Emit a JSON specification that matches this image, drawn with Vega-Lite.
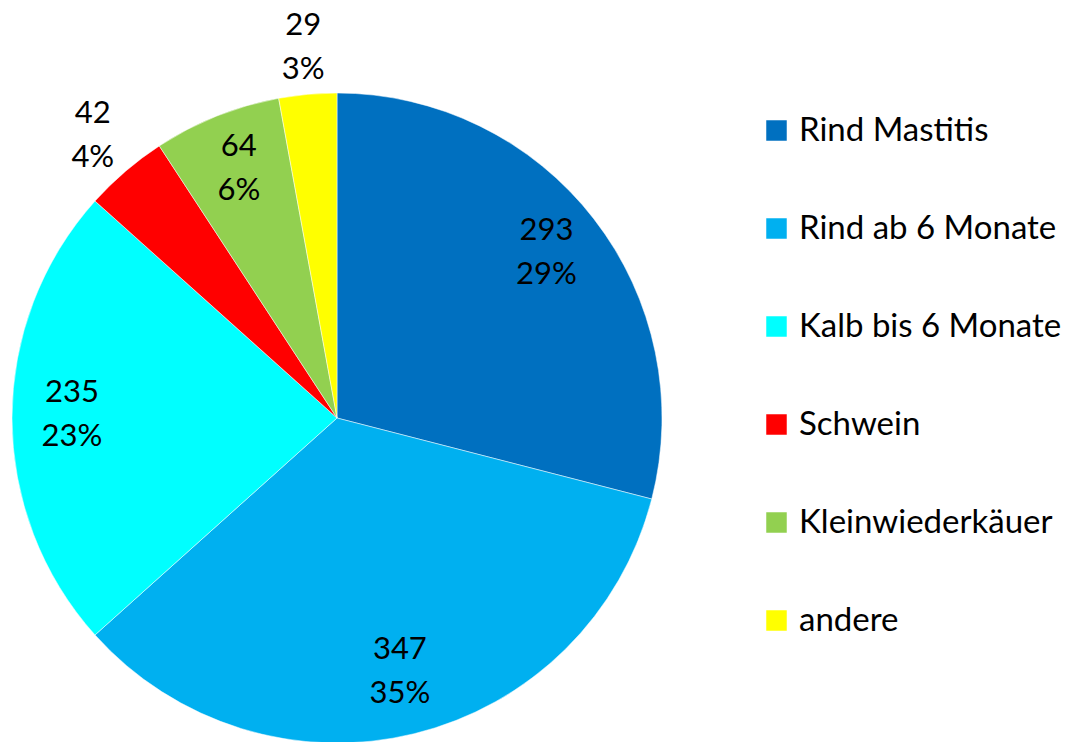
{
  "$schema": "https://vega.github.io/schema/vega-lite/v6.json",
  "width": 674,
  "height": 650,
  "autosize": "none",
  "padding": {"left": 0, "top": 93, "right": 406, "bottom": 0},
  "background": "white",
  "config": {"view": {"stroke": null}, "font": "Lato"},
  "data": {
    "values": [
      {"rank": 1, "kategorie": "Rind Mastitis", "anzahl": 293, "anteil": "29%"},
      {"rank": 2, "kategorie": "Rind ab 6 Monate", "anzahl": 347, "anteil": "35%"},
      {"rank": 3, "kategorie": "Kalb bis 6 Monate", "anzahl": 235, "anteil": "23%"},
      {"rank": 4, "kategorie": "Schwein", "anzahl": 42, "anteil": "4%"},
      {"rank": 5, "kategorie": "Kleinwiederkäuer", "anzahl": 64, "anteil": "6%"},
      {"rank": 6, "kategorie": "andere", "anzahl": 29, "anteil": "3%"}
    ]
  },
  "transform": [
    {"calculate": "datum.anzahl + '\\n' + datum.anteil", "as": "label"}
  ],
  "encoding": {
    "theta": {"field": "anzahl", "type": "quantitative", "stack": true},
    "order": {"field": "rank", "type": "quantitative"}
  },
  "layer": [
    {
      "mark": {"type": "arc", "outerRadius": 325, "stroke": "white", "strokeWidth": 0.5},
      "encoding": {
        "color": {
          "field": "kategorie",
          "type": "nominal",
          "sort": ["Rind Mastitis", "Rind ab 6 Monate", "Kalb bis 6 Monate", "Schwein", "Kleinwiederkäuer", "andere"],
          "scale": {
            "domain": ["Rind Mastitis", "Rind ab 6 Monate", "Kalb bis 6 Monate", "Schwein", "Kleinwiederkäuer", "andere"],
            "range": ["#0070C0", "#00B0F0", "#00FFFF", "#FF0000", "#92D050", "#FFFF00"]
          },
          "legend": {
            "title": null,
            "orient": "none",
            "legendX": 760,
            "legendY": 21,
            "symbolType": "square",
            "symbolSize": 420,
            "symbolStrokeWidth": 0,
            "labelFontSize": 33,
            "labelFont": "Lato",
            "labelColor": "#000000",
            "labelOffset": 6,
            "labelLimit": 400,
            "rowPadding": 64
          }
        }
      }
    },
    {
      "mark": {"type": "text", "radius": 265, "fontSize": 31, "font": "Lato", "color": "#000000", "lineBreak": "\n", "lineHeight": 44, "align": "center", "baseline": "middle", "dy": -25},
      "encoding": {
        "text": {"condition": {"test": "datum.anzahl < 50", "value": ""}, "field": "label", "type": "nominal"}
      }
    },
    {
      "mark": {"type": "text", "radius": 375, "fontSize": 31, "font": "Lato", "color": "#000000", "lineBreak": "\n", "lineHeight": 44, "align": "center", "baseline": "middle", "dy": -19},
      "encoding": {
        "text": {"condition": {"test": "datum.anzahl >= 50", "value": ""}, "field": "label", "type": "nominal"}
      }
    }
  ]
}
